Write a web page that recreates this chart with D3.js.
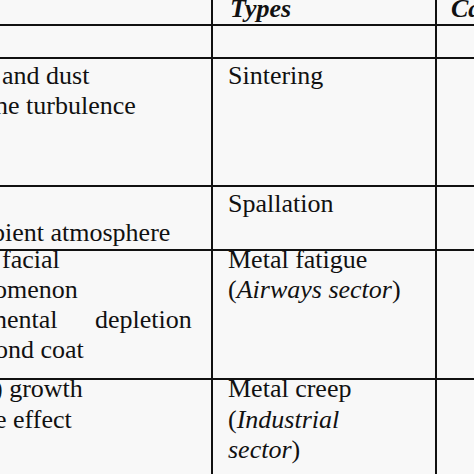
<!DOCTYPE html><html><head><meta charset="utf-8"><script src="https://cdn.jsdelivr.net/npm/d3@7"></script>
<style>body{margin:0;background:#f8f8f8}</style></head><body><script>
const colLines=[212,436];
const rowLines=[25,58,186,250,379];
const cells=[
 {x:230,y:17,t:"Types",s:"bi"},{x:451,y:17,t:"Ca",s:"bi"},
 {x:2,y:84,t:"and dust"},{x:-5,y:114,t:"ne turbulence"},{x:228,y:84,t:"Sintering"},
 {x:228,y:212,t:"Spallation"},{x:-8,y:241,t:"bient atmosphere"},
 {x:2,y:268,t:"facial"},{x:-6,y:298,t:"omenon"},{x:-6,y:328,t:"nental"},{x:95,y:328,t:"depletion"},{x:-5,y:358,t:"ond coat"},
 {x:228,y:268,t:"Metal fatigue"},{x:228,y:298,parts:[["(",""],["Airways sector","i"],[")",""]]},
 {x:-6,y:397,t:") growth"},{x:-5,y:428,t:"e effect"},
 {x:228,y:397,t:"Metal creep"},{x:228,y:428,parts:[["(",""],["Industrial","i"]]},{x:228,y:458,parts:[["sector","i"],[")",""]]}
];
const svg=d3.select("body").append("svg").attr("width",474).attr("height",474);
svg.append("rect").attr("width",474).attr("height",474).attr("fill","#f8f8f8");
svg.selectAll("line.v").data(colLines).join("line").attr("x1",d=>d).attr("x2",d=>d).attr("y1",0).attr("y2",474).attr("stroke","#111").attr("stroke-width",2);
svg.selectAll("line.h").data(rowLines).join("line").attr("x1",0).attr("x2",474).attr("y1",d=>d).attr("y2",d=>d).attr("stroke","#111").attr("stroke-width",2);
const t=svg.selectAll("text").data(cells).join("text").attr("x",d=>d.x).attr("y",d=>d.y)
 .attr("font-family","Liberation Serif, Times New Roman, serif").attr("font-size",26).attr("fill","#111")
 .attr("font-weight",d=>d.s==="bi"?"bold":null).attr("font-style",d=>d.s==="bi"?"italic":null);
t.each(function(d){const el=d3.select(this);
 if(d.parts){d.parts.forEach(p=>el.append("tspan").text(p[0]).attr("font-style",p[1]==="i"?"italic":null));}
 else el.text(d.t);});
</script></body></html>
